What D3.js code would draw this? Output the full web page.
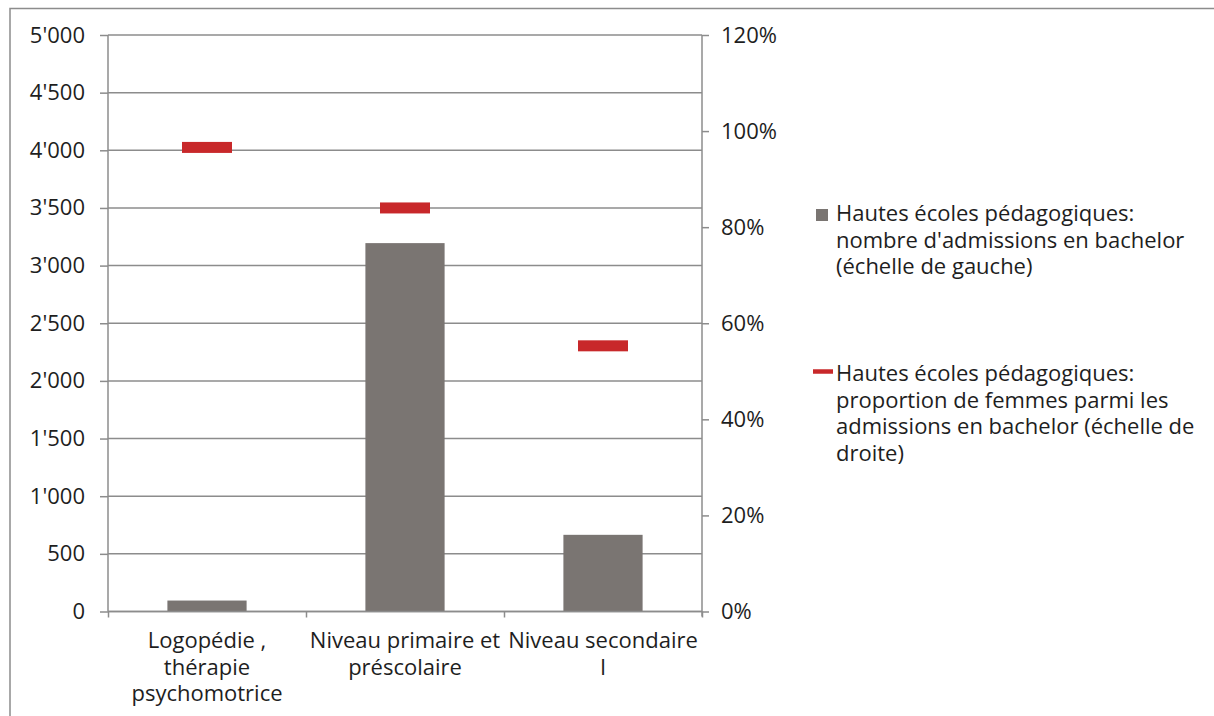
<!DOCTYPE html>
<html><head><meta charset="utf-8">
<script src="https://cdn.jsdelivr.net/npm/d3@7"></script>
<style>
html,body{margin:0;padding:0;background:#fff;}
svg text{font-family:"Open Sans",sans-serif;fill:#1e1e1e;}
</style></head>
<body>
<svg id="chart" width="1214" height="716"></svg>
<script>
// ---- data ----
const categories = [
  ["Logopédie ,", "thérapie", "psychomotrice"],
  ["Niveau primaire et", "préscolaire"],
  ["Niveau secondaire", "I"]
];
const admissions = [95, 3195, 665];          // left scale
const womenShare = [0.966, 0.84, 0.553];      // right scale
const leftTicks = [0, 500, 1000, 1500, 2000, 2500, 3000, 3500, 4000, 4500, 5000];
const rightTicks = [0, 0.2, 0.4, 0.6, 0.8, 1.0, 1.2];
const legendBar = ["Hautes écoles pédagogiques:", "nombre d'admissions en bachelor", "(échelle de gauche)"];
const legendLine = ["Hautes écoles pédagogiques:", "proportion de femmes parmi les", "admissions en bachelor (échelle de", "droite)"];

// ---- layout ----
const svg = d3.select("#chart");
const L = 108, R = 702, T = 35, B = 611.5;
const gray = "#8c8c8c", barColor = "#7a7572", red = "#c8282a";
const fs = 22;

// frame
svg.append("rect").attr("x", 10).attr("y", 8.5).attr("width", 1230).attr("height", 740)
  .attr("fill", "none").attr("stroke", gray).attr("stroke-width", 1.5);

const keys = categories.map((c, i) => i);
const x = d3.scaleBand().domain(keys).range([L, R]).paddingInner(0.6).paddingOuter(0.3);
const xEdge = d3.scaleLinear().domain([0, 3]).range([L, R]);
const yL = d3.scaleLinear().domain([0, 5000]).range([B, T]);
const yR = d3.scaleLinear().domain([0, 1.2]).range([B, T]);

const fmt = d3.formatLocale({decimal: ".", thousands: "'", grouping: [3], currency: ["", ""]}).format(",");

// gridlines
svg.append("g").selectAll("line").data(leftTicks).join("line")
  .attr("x1", L).attr("x2", R).attr("y1", d => yL(d)).attr("y2", d => yL(d))
  .attr("stroke", gray).attr("stroke-width", 1.5);

// bars
svg.append("g").selectAll("rect").data(admissions).join("rect")
  .attr("x", (d, i) => x(i)).attr("width", x.bandwidth())
  .attr("y", d => yL(d)).attr("height", d => yL(0) - yL(d))
  .attr("fill", barColor);

// left axis
const gL = svg.append("g").attr("transform", `translate(${L},0)`)
  .call(d3.axisLeft(yL).tickValues(leftTicks).tickFormat(fmt).tickSize(8).tickPadding(15));
// right axis
const gR = svg.append("g").attr("transform", `translate(${R},0)`)
  .call(d3.axisRight(yR).tickValues(rightTicks).tickFormat(d3.format(".0%")).tickSize(7).tickPadding(12));
// bottom axis ticks
const gB = svg.append("g").attr("transform", `translate(0,${B})`)
  .call(d3.axisBottom(xEdge).tickValues([0, 1, 2, 3]).tickFormat("").tickSize(6));

[gL, gR, gB].forEach(g => {
  g.select(".domain").attr("stroke", gray).attr("stroke-width", 1.5);
  g.selectAll(".tick line").attr("stroke", gray).attr("stroke-width", 1.5);
  g.selectAll(".tick text").attr("font-size", fs).attr("font-family", "Open Sans").attr("fill", "#1e1e1e");
});
gL.select(".domain").attr("d", `M-0,${B}V${T}`);
gR.select(".domain").attr("d", `M0,${B + 5}V${T}`);
gB.select(".domain").attr("d", `M${L},0H${R}`);

// women share markers
svg.append("g").selectAll("rect").data(womenShare).join("rect")
  .attr("x", (d, i) => x(i) + x.bandwidth() / 2 - 25).attr("width", 50)
  .attr("y", d => yR(d) - 5.5).attr("height", 11)
  .attr("fill", red);

// category labels
const lab = svg.append("g");
categories.forEach((lines, i) => {
  const t = lab.append("text").attr("text-anchor", "middle").attr("font-size", fs)
    .attr("x", x(i) + x.bandwidth() / 2).attr("y", 648);
  lines.forEach((s, j) => t.append("tspan").attr("x", x(i) + x.bandwidth() / 2).attr("dy", j ? 26.5 : 0).text(s));
});

// legend
const lg = svg.append("g");
lg.append("rect").attr("x", 816).attr("y", 209).attr("width", 12).attr("height", 12).attr("fill", barColor);
const t1 = lg.append("text").attr("x", 836).attr("y", 221).attr("font-size", fs);
legendBar.forEach((s, j) => t1.append("tspan").attr("x", 836).attr("dy", j ? 26.5 : 0).text(s));
lg.append("line").attr("x1", 813).attr("x2", 833).attr("y1", 371.5).attr("y2", 371.5)
  .attr("stroke", red).attr("stroke-width", 4.5);
const t2 = lg.append("text").attr("x", 836).attr("y", 381).attr("font-size", fs);
legendLine.forEach((s, j) => t2.append("tspan").attr("x", 836).attr("dy", j ? 26.5 : 0).text(s));
</script>
</body></html>
